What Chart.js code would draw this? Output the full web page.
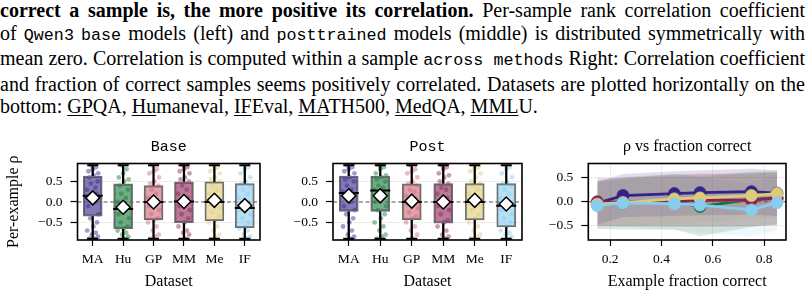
<!DOCTYPE html>
<html>
<head>
<meta charset="utf-8">
<script src="https://cdn.jsdelivr.net/npm/chart.js@4.4.0/dist/chart.umd.min.js"></script>
<style>
  html, body { margin: 0; padding: 0; background: #fff; width: 805px; height: 298px; overflow: hidden; }
  #caption { position: absolute; left: 0; top: -1px; width: 805px; font-family: "Liberation Serif", "Times New Roman", serif;
             font-size: 20px; line-height: 22.5px; color: #000; }
  #caption .ln { white-space: nowrap; width: max-content; transform-origin: 0 0; }
  #caption .tt { font-family: "Liberation Mono", "DejaVu Sans Mono", monospace; font-size: 16.7px; }
  #caption u { text-underline-offset: 2px; text-decoration-thickness: 1px; }
  canvas { position: absolute; top: 130px; }
</style>
</head>
<body>
<div id="caption">
  <div class="ln j"><b>correct a sample is, the more positive its correlation.</b> Per-sample rank correlation coefficient</div>
  <div class="ln j">of <span class="tt">Qwen3</span> <span class="tt">base</span> models (left) and <span class="tt">posttrained</span> models (middle) is distributed symmetrically with</div>
  <div class="ln j">mean zero. Correlation is computed within a sample <span class="tt">across methods</span> Right: Correlation coefficient</div>
  <div class="ln j">and fraction of correct samples seems positively correlated. Datasets are plotted horizontally on the</div>
  <div class="ln">bottom: <u>GP</u>QA, <u>Hu</u>maneval, <u>IF</u>Eval, <u>MA</u>TH500, <u>Med</u>QA, <u>MML</u>U.</div>
</div>
<canvas id="baseChart" width="272" height="168" style="left:0"></canvas>
<canvas id="postChart" width="262" height="168" style="left:272px"></canvas>
<canvas id="fracChart" width="271" height="168" style="left:534px"></canvas>
<script>
// ---- data ----
var LABELS = ['MA', 'Hu', 'GP', 'MM', 'Me', 'IF'];
var COLORS = ['#332288', '#117733', '#CC6677', '#882255', '#DDCC77', '#88CCEE'];
var Y_TICKS = [-0.5, 0, 0.5];
var X_TICKS_FRAC = [0.2, 0.4, 0.6, 0.8];

var BASE_Q1 = [-0.35, -0.65, -0.44, -0.51, -0.46, -0.63];
var BASE_MED = [0.15, -0.17, 0.0, 0.01, 0.0, -0.15];
var BASE_Q3 = [0.63, 0.44, 0.40, 0.49, 0.49, 0.45];
var BASE_MEAN = [0.10, -0.13, 0.0, 0.01, 0.04, -0.09];
var BASE_LO = [-0.9, -0.9, -0.9, -0.9, -0.9, -0.9];
var BASE_HI = [0.9, 0.9, 0.9, 0.9, 0.9, 0.9];

var POST_Q1 = [-0.23, -0.23, -0.44, -0.52, -0.44, -0.61];
var POST_MED = [0.22, 0.28, 0.0, 0.0, 0.0, -0.09];
var POST_Q3 = [0.63, 0.63, 0.44, 0.45, 0.45, 0.45];
var POST_MEAN = [0.15, 0.15, 0.02, 0.0, 0.04, -0.05];
var POST_LO = [-0.9, -0.9, -0.9, -0.9, -0.9, -0.9];
var POST_HI = [0.9, 0.9, 0.9, 0.9, 0.9, 0.9];

// per-sample rho values shown as strip dots, plus their horizontal jitter
var JITTER = [-0.12, 0.05, 0.17, -0.03, 0.10, -0.18, 0.02, 0.14, -0.08, 0.19, -0.15, 0.07, -0.01,
              0.12, -0.19, 0.09, -0.06, 0.16, -0.11, 0.03, 0.18, -0.14, 0.0, 0.11, -0.05, 0.15];
var BASE_DOTS_MA = [-0.9, -0.9, -0.85, -0.8, -0.75, -0.7, -0.6, -0.5, -0.4, -0.3, -0.1, 0, 0.1, 0.2, 0.3, 0.35, 0.45, 0.5, 0.6, 0.65, 0.7, 0.75, 0.8, 0.85, 0.9, 0.95];
var BASE_DOTS_HU = [-0.95, -0.9, -0.85, -0.8, -0.75, -0.7, -0.65, -0.6, -0.5, -0.4, -0.3, -0.2, -0.15, -0.1, 0, 0.1, 0.2, 0.3, 0.4, 0.5, 0.55, 0.6, 0.7, 0.8, 0.9, 0.95];
var BASE_DOTS_GP = [-0.9, -0.85, -0.8, -0.7, -0.6, -0.5, -0.45, -0.4, -0.3, -0.2, -0.1, -0.05, 0, 0.05, 0.1, 0.2, 0.3, 0.4, 0.45, 0.5, 0.6, 0.7, 0.75, 0.8, 0.9, 0.95];
var BASE_DOTS_MM = [-0.95, -0.9, -0.8, -0.75, -0.7, -0.6, -0.5, -0.4, -0.3, -0.2, -0.1, 0, 0, 0.1, 0.2, 0.3, 0.4, 0.5, 0.55, 0.6, 0.7, 0.75, 0.8, 0.85, 0.9, 0.95];
var BASE_DOTS_ME = [-0.9, -0.85, -0.8, -0.7, -0.6, -0.5, -0.45, -0.35, -0.25, -0.15, -0.05, 0, 0.05, 0.1, 0.2, 0.3, 0.4, 0.5, 0.55, 0.6, 0.7, 0.75, 0.8, 0.85, 0.9, 0.95];
var BASE_DOTS_IF = [-0.95, -0.9, -0.85, -0.8, -0.7, -0.65, -0.6, -0.5, -0.4, -0.3, -0.2, -0.15, -0.1, 0, 0.1, 0.2, 0.3, 0.4, 0.45, 0.5, 0.6, 0.7, 0.8, 0.85, 0.9, 0.95];
var POST_DOTS_MA = [-0.95, -0.9, -0.85, -0.8, -0.7, -0.6, -0.5, -0.4, -0.3, -0.2, -0.1, 0, 0.1, 0.2, 0.25, 0.3, 0.4, 0.5, 0.55, 0.6, 0.7, 0.75, 0.8, 0.85, 0.9, 0.95];
var POST_DOTS_HU = [-0.9, -0.85, -0.8, -0.7, -0.6, -0.5, -0.4, -0.3, -0.2, -0.1, 0, 0.1, 0.2, 0.25, 0.3, 0.35, 0.4, 0.5, 0.55, 0.6, 0.65, 0.7, 0.8, 0.85, 0.9, 0.95];
var POST_DOTS_GP = [-0.95, -0.9, -0.8, -0.7, -0.6, -0.5, -0.4, -0.35, -0.25, -0.15, -0.05, 0, 0.05, 0.1, 0.15, 0.25, 0.3, 0.4, 0.45, 0.5, 0.6, 0.7, 0.75, 0.8, 0.9, 0.95];
var POST_DOTS_MM = [-0.95, -0.9, -0.85, -0.8, -0.7, -0.6, -0.5, -0.45, -0.3, -0.2, -0.1, 0, 0, 0.1, 0.2, 0.3, 0.35, 0.45, 0.5, 0.6, 0.65, 0.7, 0.8, 0.85, 0.9, 0.95];
var POST_DOTS_ME = [-0.9, -0.85, -0.8, -0.7, -0.6, -0.5, -0.4, -0.3, -0.2, -0.1, -0.05, 0, 0.05, 0.1, 0.2, 0.3, 0.4, 0.45, 0.5, 0.6, 0.7, 0.75, 0.8, 0.85, 0.9, 0.95];
var POST_DOTS_IF = [-0.95, -0.9, -0.85, -0.8, -0.75, -0.7, -0.6, -0.5, -0.4, -0.3, -0.2, -0.1, -0.05, 0, 0.1, 0.2, 0.3, 0.4, 0.45, 0.5, 0.6, 0.7, 0.8, 0.85, 0.9, 0.95];

// right panel: mean rho (and spread) vs fraction correct, one series per dataset
var FRAC = [0.15, 0.25, 0.45, 0.55, 0.75, 0.85];
var RHO_MA = [-0.03, 0.13, 0.17, 0.19, 0.21, 0.18];
var RHO_HU = [-0.07, -0.03, 0.0, -0.10, 0.05, 0.08];
var RHO_GP = [-0.02, -0.01, 0.02, 0.02, 0.04, 0.06];
var RHO_MM = [0.0, -0.01, 0.02, 0.03, 0.04, 0.07];
var RHO_ME = [-0.05, -0.02, 0.06, 0.08, 0.13, 0.17];
var RHO_IF = [-0.08, -0.03, -0.04, -0.07, -0.17, -0.02];
var SD_MA = [0.45, 0.45, 0.47, 0.47, 0.48, 0.48];
var SD_HU = [0.50, 0.55, 0.58, 0.62, 0.58, 0.55];
var SD_GP = [0.48, 0.50, 0.52, 0.55, 0.55, 0.55];
var SD_MM = [0.50, 0.50, 0.55, 0.55, 0.55, 0.55];
var SD_ME = [0.47, 0.50, 0.52, 0.52, 0.50, 0.50];
var SD_IF = [0.48, 0.50, 0.55, 0.58, 0.55, 0.58];

// ---- helpers ----
function rgba(hex, a) {
  var n = parseInt(hex.slice(1), 16);
  return 'rgba(' + (n >> 16) + ',' + ((n >> 8) & 255) + ',' + (n & 255) + ',' + a + ')';
}
function fmtRho(v) {
  return (v < 0 ? '\u2212' : '') + Math.abs(v).toFixed(1);
}
function pts(xs, ys) { return xs.map(function (x, i) { return { x: x, y: ys[i] }; }); }

var SERIF = '"Liberation Serif", "Times New Roman", serif';
Chart.defaults.font.family = SERIF;
Chart.defaults.color = '#000';

// zero reference line + closed frame around the plot area
var framePlugin = {
  id: 'frame',
  beforeDatasetDraw: function (chart, args, opts) {
    if (args.index !== opts.zeroBefore) return;
    var a = chart.chartArea, ctx = chart.ctx, y0 = chart.scales.y.getPixelForValue(0);
    ctx.save();
    ctx.strokeStyle = '#555'; ctx.lineWidth = 1; ctx.setLineDash([4, 2.5]);
    ctx.beginPath(); ctx.moveTo(a.left, y0); ctx.lineTo(a.right, y0); ctx.stroke();
    ctx.restore();
  },
  afterDraw: function (chart) {
    var a = chart.chartArea, ctx = chart.ctx;
    ctx.save();
    ctx.strokeStyle = '#000'; ctx.lineWidth = 1.6;
    ctx.strokeRect(a.left, a.top, a.right - a.left, a.bottom - a.top);
    ctx.restore();
  }
};

function yScale(min, max, width, withTitle) {
  return {
    type: 'linear', min: min, max: max,
    afterBuildTicks: function (s) { s.ticks = Y_TICKS.map(function (v) { return { value: v }; }); },
    afterFit: function (s) { s.width = width; },
    ticks: { callback: fmtRho, padding: 8, font: { size: 13.5 }, color: '#000' },
    grid: {
      color: function (c) { return c.tick && c.tick.value === 0 ? 'rgba(0,0,0,0)' : '#ececec'; },
      tickColor: '#000', tickLength: 7, tickWidth: 1.2, lineWidth: 1
    },
    border: { display: false },
    title: { display: withTitle, text: 'Per-example \u03C1', font: { size: 16 }, color: '#000', padding: { top: 4.4, bottom: 0 } }
  };
}

function boxChart(id, title, q1, med, q3, mean, lo, hi, dots, yWidth, padRight, withYTitle) {
  var idx = LABELS.map(function (_, i) { return i; });
  var dotData = [], dotCols = [];
  dots.forEach(function (arr, i) {
    arr.forEach(function (v, j) {
      dotData.push({ x: i + JITTER[j % JITTER.length], y: v });
      dotCols.push(rgba(COLORS[i], 0.45));
    });
  });
  var datasets = [
    { type: 'line', showLine: false, data: dotData, pointRadius: 2.4, pointBorderWidth: 0,
      pointBackgroundColor: dotCols, order: 9 },
    { type: 'bar', grouped: false, data: idx.map(function (i) { return { x: i, y: [lo[i], q1[i]] }; }),
      barThickness: 1.6, backgroundColor: '#000', borderWidth: 0, order: 8 },
    { type: 'bar', grouped: false, data: idx.map(function (i) { return { x: i, y: [q3[i], hi[i]] }; }),
      barThickness: 1.6, backgroundColor: '#000', borderWidth: 0, order: 7 },
    { type: 'line', showLine: false, data: pts(idx, lo).concat(pts(idx, hi)), pointStyle: 'line',
      pointRadius: 5.5, pointBorderWidth: 2, pointBorderColor: '#000', order: 6 },
    { type: 'bar', grouped: false, data: idx.map(function (i) { return { x: i, y: [q1[i], q3[i]] }; }),
      barThickness: 19, backgroundColor: COLORS.map(function (c) { return rgba(c, 0.6); }),
      borderColor: '#6f6f6f', borderWidth: 1.5, borderSkipped: false, order: 5 },
    { type: 'line', showLine: false, data: pts(idx, med), pointStyle: 'line',
      pointRadius: 10, pointBorderWidth: 2, pointBorderColor: '#000', order: 4 },
    { type: 'line', showLine: false, data: pts(idx, mean), pointStyle: 'rectRot',
      pointRadius: 7, pointBorderWidth: 1.5, pointBorderColor: '#000', pointBackgroundColor: '#fff', order: 3 }
  ];
  return new Chart(document.getElementById(id), {
    type: 'bar',
    data: { datasets: datasets },
    plugins: [framePlugin],
    options: {
      responsive: false, animation: false, events: [],
      layout: { padding: { left: 0, right: padRight, top: 0, bottom: 0 } },
      plugins: {
        legend: { display: false }, tooltip: { enabled: false },
        title: { display: true, text: title, fullSize: false, color: '#000',
                 font: { family: '"Liberation Mono", "DejaVu Sans Mono", monospace', size: 15, weight: 'normal' },
                 padding: { top: 8.3, bottom: 7.2 } },
        frame: { zeroBefore: 5 }
      },
      scales: {
        x: {
          type: 'linear', min: -0.5, max: 5.5, offset: false,
          afterBuildTicks: function (s) { s.ticks = idx.map(function (v) { return { value: v }; }); },
          afterFit: function (s) { s.height = 58; },
          ticks: { callback: function (v) { return LABELS[v]; }, padding: 5, font: { size: 13.5 }, color: '#000',
                   maxRotation: 0, autoSkip: false },
          grid: { drawOnChartArea: false, offset: false, tickColor: '#000', tickLength: 6, tickWidth: 1.2 },
          border: { display: false },
          title: { display: true, text: 'Dataset', font: { size: 16 }, color: '#000', padding: { top: 0, bottom: 6.4 } }
        },
        y: yScale(-0.93, 0.94, yWidth, withYTitle)
      }
    }
  });
}

boxChart('baseChart', 'Base', BASE_Q1, BASE_MED, BASE_Q3, BASE_MEAN, BASE_LO, BASE_HI,
  [BASE_DOTS_MA, BASE_DOTS_HU, BASE_DOTS_GP, BASE_DOTS_MM, BASE_DOTS_ME, BASE_DOTS_IF], 77.5, 2, true);
boxChart('postChart', 'Post', POST_Q1, POST_MED, POST_Q3, POST_MEAN, POST_LO, POST_HI,
  [POST_DOTS_MA, POST_DOTS_HU, POST_DOTS_GP, POST_DOTS_MM, POST_DOTS_ME, POST_DOTS_IF], 61, 4, false);

// ---- right panel ----
(function () {
  var series = [RHO_MA, RHO_HU, RHO_GP, RHO_MM, RHO_ME, RHO_IF];
  var spread = [SD_MA, SD_HU, SD_GP, SD_MM, SD_ME, SD_IF];
  var datasets = [];
  series.forEach(function (m, s) {
    var sd = spread[s];
    datasets.push({ data: pts(FRAC, m.map(function (v, i) { return v - sd[i]; })), borderWidth: 0, pointRadius: 0, fill: false, order: 40 });
    datasets.push({ data: pts(FRAC, m.map(function (v, i) { return v + sd[i]; })), borderWidth: 0, pointRadius: 0,
                    fill: '-1', backgroundColor: rgba(COLORS[s], 0.15), order: 40 });
  });
  var firstLine = datasets.length;
  series.forEach(function (m, s) {
    datasets.push({ data: pts(FRAC, m), borderColor: COLORS[s], borderWidth: 2.8, pointRadius: 6,
                    pointBackgroundColor: COLORS[s], pointBorderColor: COLORS[s], pointBorderWidth: 0.8,
                    fill: false, tension: 0, order: 10 - s });
  });
  new Chart(document.getElementById('fracChart'), {
    type: 'line',
    data: { datasets: datasets },
    plugins: [framePlugin],
    options: {
      responsive: false, animation: false, events: [],
      layout: { padding: { left: 0, right: 19, top: 0, bottom: 0 } },
      plugins: {
        legend: { display: false }, tooltip: { enabled: false },
        title: { display: true, text: '\u03C1 vs fraction correct', fullSize: false, color: '#000',
                 font: { size: 16, weight: 'normal' }, padding: { top: 6.9, bottom: 7.4 } },
        frame: { zeroBefore: firstLine }
      },
      scales: {
        x: {
          type: 'linear', min: 0.115, max: 0.885,
          afterBuildTicks: function (s) { s.ticks = X_TICKS_FRAC.map(function (v) { return { value: v }; }); },
          afterFit: function (s) { s.height = 58; },
          ticks: { callback: function (v) { return v.toFixed(1); }, padding: 5, font: { size: 13.5 }, color: '#000', maxRotation: 0 },
          grid: { color: '#ececec', tickColor: '#000', tickLength: 6, tickWidth: 1.2 },
          border: { display: false },
          title: { display: true, text: 'Example fraction correct', font: { size: 16 }, color: '#000', padding: { top: 0, bottom: 6.4 } }
        },
        y: yScale(-0.8, 0.8, 54.3, false)
      }
    }
  });
})();

// ---- caption: justify lines 1-4 to the full width, squeeze if too wide ----
document.querySelectorAll('#caption .ln').forEach(function (el) {
  var w = el.getBoundingClientRect().width;
  if (w > 805) {
    el.style.transform = 'scaleX(' + (805 / w) + ')';
  } else if (el.classList.contains('j')) {
    var spaces = (el.textContent.trim().match(/ /g) || []).length;
    el.style.wordSpacing = ((805 - w) / spaces) + 'px';
  }
});
</script>
</body>
</html>
